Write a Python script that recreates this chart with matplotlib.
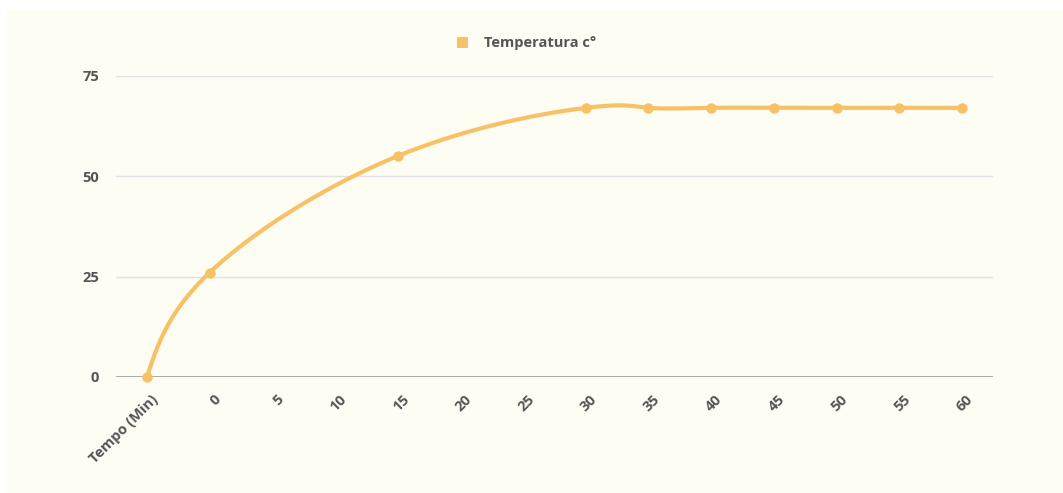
import numpy as np
import matplotlib
matplotlib.use("Agg")
import matplotlib.pyplot as plt
from matplotlib.patches import Rectangle
import matplotlib.transforms as mtransforms

categories = ["Tempo (Min)", "0", "5", "10", "15", "20", "25", "30",
              "35", "40", "45", "50", "55", "60"]
temperature = [0, 26, None, None, 55, None, None, 67, 67, 67, 67, 67, 67, 67]
series_label = "Temperatura c\u00b0"
y_ticks = [0, 25, 50, 75]

LINE_COLOR = "#f9c166"
TEXT_COLOR = "#555555"
BG = "#fdfdf4"

plt.rcParams['font.family'] = ['Open Sans', 'DejaVu Sans']

W, H = 1063, 493
fig = plt.figure(figsize=(W / 100, H / 100), dpi=100)
fig.patch.set_facecolor("white")
fig.patches.append(Rectangle((7 / W, 0), 1 - 7 / W, 1 - 10 / H, transform=fig.transFigure,
                             facecolor=BG, edgecolor="none", zorder=-10))

left, right = 115.6 / W, 993.3 / W
bottom, top = 1 - 377 / H, 1 - 75.7 / H
ax = fig.add_axes([left, bottom, right - left, top - bottom])
ax.set_facecolor("none")
ax.set_xlim(-0.5, len(categories) - 0.5)
ax.set_ylim(0, 75)

# points with values (gaps are spanned)
pts = [(i, v) for i, v in enumerate(temperature) if v is not None]
xs = np.array([p[0] for p in pts], float)
ys = np.array([p[1] for p in pts], float)
n = len(xs)


# natural cubic curve through the points (parametric, like d3.curveNatural)
def control_points(x):
    m_ = len(x) - 1
    a = np.zeros(m_); b = np.zeros(m_); r = np.zeros(m_)
    a[0], b[0], r[0] = 0, 2, x[0] + 2 * x[1]
    for i in range(1, m_ - 1):
        a[i], b[i], r[i] = 1, 4, 4 * x[i] + 2 * x[i + 1]
    a[m_ - 1], b[m_ - 1], r[m_ - 1] = 2, 7, 8 * x[m_ - 1] + x[m_]
    for i in range(1, m_):
        mm = a[i] / b[i - 1]
        b[i] -= mm
        r[i] -= mm * r[i - 1]
    a[m_ - 1] = r[m_ - 1] / b[m_ - 1]
    for i in range(m_ - 2, -1, -1):
        a[i] = (r[i] - a[i + 1]) / b[i]
    b[m_ - 1] = (x[m_] + a[m_ - 1]) / 2
    for i in range(m_ - 1):
        b[i] = 2 * x[i + 1] - a[i + 1]
    return a, b


sx = (right - left) * W / len(categories)
sy = (top - bottom) * H / 75.0
ax_, bx_ = control_points(xs * sx)
ay_, by_ = control_points(ys * sy)
px, py = [], []
t = np.linspace(0, 1, 80)
for i in range(n - 1):
    P = [np.array([xs[i] * sx, ys[i] * sy]), np.array([ax_[i], ay_[i]]),
         np.array([bx_[i], by_[i]]), np.array([xs[i + 1] * sx, ys[i + 1] * sy])]
    seg = ((1 - t) ** 3)[:, None] * P[0] + (3 * (1 - t) ** 2 * t)[:, None] * P[1] + \
          (3 * (1 - t) * t ** 2)[:, None] * P[2] + (t ** 3)[:, None] * P[3]
    px.extend(seg[:, 0] / sx)
    py.extend(seg[:, 1] / sy)

ax.plot(px, py, color=LINE_COLOR, lw=3.0, solid_capstyle="round", zorder=3, clip_on=False)
ax.plot(xs, ys, "o", color=LINE_COLOR, ms=6.5, zorder=4, clip_on=False)

for yv in y_ticks:
    ax.axhline(yv, color="#9e9e9e" if yv == 0 else "#e2e2e2",
               lw=1.2 if yv == 0 else 1.0, zorder=1)
for s in ax.spines.values():
    s.set_visible(False)
ax.set_yticks(y_ticks)
ax.set_yticklabels([str(v) for v in y_ticks], fontsize=10.5, fontweight="bold",
                   color=TEXT_COLOR)
ax.tick_params(axis="y", length=0, pad=12)
ax.set_xticks(range(len(categories)))
ax.set_xticklabels([])
ax.tick_params(axis="x", length=0)

offset = mtransforms.ScaledTranslation(9 / 100, -20 / 100, fig.dpi_scale_trans)
for i, lab in enumerate(categories):
    ax.text(i, 0, lab, rotation=45, ha="right", va="center", rotation_mode="anchor",
            fontsize=10.5, fontweight="bold", color=TEXT_COLOR,
            transform=ax.transData + offset, clip_on=False)

fig.patches.append(Rectangle((457 / W, 1 - 48 / H), 11 / W, 11 / H, transform=fig.transFigure,
                             facecolor=LINE_COLOR, edgecolor="none", zorder=5))
fig.text(484 / W, 1 - 43 / H, series_label, ha="left", va="center", fontsize=10.5,
         fontweight="bold", color=TEXT_COLOR)

fig.savefig("out.png", dpi=100, facecolor=fig.get_facecolor())
